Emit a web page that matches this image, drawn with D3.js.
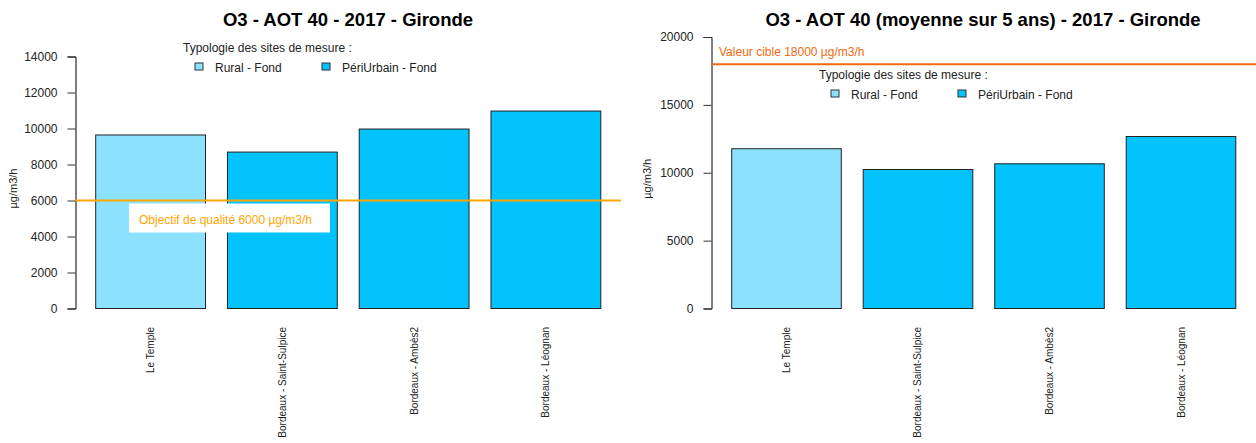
<!DOCTYPE html>
<html lang="fr">
<head>
<meta charset="UTF-8">
<title>O3 - AOT 40 - 2017 - Gironde</title>
<script src="https://cdn.jsdelivr.net/npm/d3@7/dist/d3.min.js"></script>
<style>
  body { margin: 0; background: #fff; }
  svg { display: block; font-family: "Liberation Sans", Arial, sans-serif; }
</style>
</head>
<body>
<script>
// Sites de mesure et typologie
const sites = ["Le Temple", "Bordeaux - Saint-Sulpice", "Bordeaux - Ambès2", "Bordeaux - Léognan"];
const typologie = ["Rural - Fond", "PériUrbain - Fond", "PériUrbain - Fond", "PériUrbain - Fond"];
const typologieLabels = ["Rural - Fond", "PériUrbain - Fond"];
const typologieColors = ["#8ce1ff", "#03c3ff"];

// AOT 40 en µg/m3/h
const aot40Annee = [9640, 8690, 9970, 10970];
const aot40Moyenne5ans = [11770, 10240, 10660, 12670];

// Graduations des axes
const ticksAnnee = [0, 2000, 4000, 6000, 8000, 10000, 12000, 14000];
const ticksMoyenne = [0, 5000, 10000, 15000, 20000];

// Seuils réglementaires
const objectifQualite = 6000;
const valeurCible = 18000;

const w = 1256;
const h = 443;

const svg = d3.select("body")
  .append("svg")
  .attr("width", w)
  .attr("height", h);

const colorScale = d3.scaleOrdinal()
  .domain(typologieLabels)
  .range(typologieColors);

function drawPanel(opt) {
  const g = svg.append("g");

  // x : barplot R (largeur 1, espace 0.2)
  const x = d3.scaleBand()
    .domain(sites)
    .range([opt.left + 20.2, opt.right - 20.2])
    .paddingInner(0.2 / 1.2)
    .paddingOuter(0);

  const y = d3.scaleLinear()
    .domain([0, opt.yMax])
    .range([opt.bottom, opt.yMaxPx]);

  // titre
  g.append("text")
    .attr("x", opt.titleX)
    .attr("y", 26)
    .attr("text-anchor", "middle")
    .style("font-size", "18.5px")
    .style("font-weight", "bold")
    .text(opt.title);

  // barres
  g.selectAll("rect.bar")
    .data(opt.values)
    .enter()
    .append("rect")
    .attr("class", "bar")
    .attr("x", (d, i) => x(sites[i]))
    .attr("y", d => y(d))
    .attr("width", x.bandwidth())
    .attr("height", d => y(0) - y(d))
    .attr("fill", (d, i) => colorScale(typologie[i]))
    .attr("stroke", "#222")
    .attr("stroke-width", 1);

  // axe y
  const yAxis = d3.axisLeft(y)
    .tickValues(opt.ticks)
    .tickFormat(d3.format("d"))
    .tickSizeOuter(0)
    .tickSize(8)
    .tickPadding(10);

  const ax = g.append("g")
    .attr("transform", `translate(${opt.left},0)`)
    .call(yAxis);
  ax.select(".domain").attr("stroke", "#000");
  ax.selectAll(".tick line").attr("stroke", "#333");
  ax.selectAll(".tick text")
    .style("font-size", "12px")
    .style("font-family", "Liberation Sans, Arial, sans-serif")
    .attr("fill", "#222");

  // titre axe y
  g.append("text")
    .attr("transform", `translate(${opt.yLabelX},${(opt.bottom + opt.yMaxPx) / 2 + 6}) rotate(-90)`)
    .attr("text-anchor", "middle")
    .style("font-size", "11px")
    .attr("fill", "#222")
    .text("µg/m3/h");

  // étiquettes des sites
  g.selectAll("text.site")
    .data(sites)
    .enter()
    .append("text")
    .attr("class", "site")
    .attr("transform", d => `translate(${x(d) + x.bandwidth() / 2},327) rotate(-90)`)
    .attr("text-anchor", "end")
    .attr("dy", "0.35em")
    .style("font-size", "10px")
    .attr("fill", "#222")
    .text(d => d);

  // seuil
  const ly = y(opt.seuil);
  g.append("line")
    .attr("x1", opt.left)
    .attr("x2", opt.right)
    .attr("y1", ly)
    .attr("y2", ly)
    .attr("stroke", opt.seuilColor)
    .attr("stroke-width", 2);

  if (opt.seuilBox) {
    g.append("rect")
      .attr("x", opt.seuilLabelX - 10)
      .attr("y", ly + 3)
      .attr("width", 201)
      .attr("height", 29)
      .attr("fill", "#fff");
  }
  g.append("text")
    .attr("x", opt.seuilLabelX)
    .attr("y", ly + opt.seuilLabelDy)
    .style("font-size", "12px")
    .attr("fill", opt.seuilColor)
    .text(opt.seuilLabel);

  // légende
  const lg = g.append("g")
    .attr("transform", `translate(${opt.legendX},${opt.legendY})`);
  lg.append("text")
    .attr("x", 0)
    .attr("y", 0)
    .style("font-size", "12px")
    .attr("fill", "#222")
    .text("Typologie des sites de mesure :");

  const items = lg.selectAll("g.item")
    .data(typologieLabels)
    .enter()
    .append("g")
    .attr("class", "item")
    .attr("transform", (d, i) => `translate(${12 + i * 127},20)`);
  items.append("rect")
    .attr("x", 0)
    .attr("y", -9)
    .attr("width", 8)
    .attr("height", 7)
    .attr("fill", d => colorScale(d))
    .attr("stroke", "#333");
  items.append("text")
    .attr("x", 20)
    .attr("y", 0)
    .style("font-size", "12px")
    .attr("fill", "#222")
    .text(d => d);
}

drawPanel({
  title: "O3 - AOT 40 - 2017 - Gironde",
  titleX: 348,
  values: aot40Annee,
  ticks: ticksAnnee,
  yMax: 14000,
  yMaxPx: 56.5,
  bottom: 308.5,
  left: 75.5,
  right: 621,
  yLabelX: 17,
  seuil: objectifQualite,
  seuilColor: "#ffa500",
  seuilLabel: "Objectif de qualité 6000 µg/m3/h",
  seuilLabelX: 139,
  seuilLabelDy: 23,
  seuilBox: true,
  legendX: 183,
  legendY: 52
});

drawPanel({
  title: "O3 - AOT 40 (moyenne sur 5 ans) - 2017 - Gironde",
  titleX: 983,
  values: aot40Moyenne5ans,
  ticks: ticksMoyenne,
  yMax: 20000,
  yMaxPx: 37,
  bottom: 308.5,
  left: 711.5,
  right: 1256,
  yLabelX: 651,
  seuil: valeurCible,
  seuilColor: "#f26a10",
  seuilLabel: "Valeur cible 18000 µg/m3/h",
  seuilLabelX: 719,
  seuilLabelDy: -8,
  seuilBox: false,
  legendX: 819,
  legendY: 79
});
</script>
</body>
</html>
